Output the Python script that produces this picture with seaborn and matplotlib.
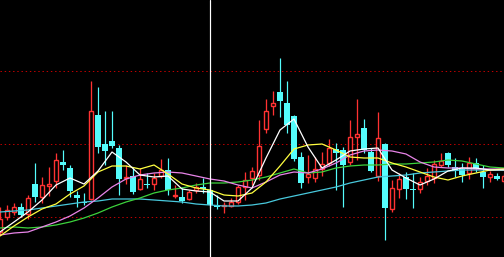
import numpy as np
import pandas as pd
import matplotlib
matplotlib.use("Agg")
import matplotlib.pyplot as plt
import seaborn as sns

# ---- candle data (price units) ----
opens = [25, 40, 45, 50, 43, 73, 60, 71, 76, 95, 89, 62, 55, 58, 142, 113, 116, 109, 79, 81,
         68, 73, 73, 81, 87, 61, 60, 58, 67, 70, 67, 52, 51, 51, 55, 70, 79, 82, 128, 151,
         165, 154, 141, 100, 80, 79, 88, 94, 108, 107, 95, 120, 129, 105, 81, 113, 48, 68, 80, 68,
         68, 76, 79, 92, 104, 90, 88, 84, 94, 85, 80, 81, 76]
closes = [38, 47, 50, 42, 59, 60, 72, 73, 97, 92, 66, 59, 54, 146, 110, 106, 111, 78, 80, 65,
          78, 72, 79, 87, 67, 62, 56, 65, 70, 68, 52, 50, 52, 55, 70, 77, 86, 111, 146, 154,
          156, 132, 98, 74, 83, 88, 93, 109, 104, 92, 120, 123, 107, 86, 119, 49, 69, 78, 68, 67,
          75, 81, 93, 96, 92, 86, 82, 94, 88, 80, 83, 78, 81]
highs = [50, 52, 54, 54, 62, 94, 80, 90, 104, 107, 92, 66, 64, 176, 170, 146, 146, 112, 92, 89,
         89, 84, 84, 98, 99, 72, 70, 67, 74, 79, 74, 62, 55, 59, 72, 85, 90, 137, 158, 166,
         199, 176, 142, 105, 102, 100, 105, 118, 114, 110, 137, 158, 138, 109, 145, 114, 77, 84, 85, 84,
         80, 89, 97, 104, 105, 99, 94, 100, 99, 92, 86, 84, 83]
lows = [22, 37, 42, 40, 38, 55, 54, 61, 69, 87, 60, 50, 52, 57, 104, 92, 109, 62, 73, 63,
        67, 69, 67, 79, 62, 59, 54, 57, 64, 64, 49, 48, 44, 50, 53, 57, 72, 77, 124, 142,
        140, 124, 96, 69, 74, 75, 81, 91, 67, 50, 92, 97, 104, 85, 76, 17, 45, 59, 58, 49,
        64, 72, 74, 90, 90, 80, 75, 78, 85, 69, 75, 77, 74]

# ---- moving average lines, read every second candle ----
ma_index = list(range(0, 73, 2))
ma_white = [25, 35, 45, 57, 72, 79, 73, 86, 105, 95, 82, 80, 81, 68, 66, 65, 56, 56, 69, 99,
            127, 138, 110, 89, 97, 106, 108, 109, 87, 79, 72, 78, 86, 89, 89, 87, 87]
ma_yellow = [21, 31, 40, 48, 53, 63, 71, 85, 91, 91, 88, 92, 83, 73, 69, 67, 62, 61, 64, 75,
             91, 108, 112, 113, 107, 100, 99, 99, 94, 90, 85, 80, 77, 81, 84, 87, 88]
ma_magenta = [22, 24, 25, 30, 35, 41, 49, 59, 70, 78, 82, 84, 85, 84, 81, 78, 76, 72, 69, 75,
              82, 85, 84, 88, 94, 102, 106, 107, 106, 103, 95, 90, 89, 89, 88, 88, 88]
ma_green = [29, 30, 29, 30, 32, 35, 39, 44, 50, 55, 59, 64, 67, 69, 72, 74, 74, 75, 77, 80,
            84, 88, 84, 85, 89, 91, 92, 92, 93, 93, 94, 95, 97, 96, 93, 90, 89]
ma_cyan = [45, 46, 47, 49, 51, 53, 55, 56, 58, 58, 58, 57, 56, 55, 53, 52, 51, 51, 52, 54,
           58, 61, 64, 67, 70, 74, 77, 80, 81, 82, 84, 85, 86, 87, 87, 87, 87]

grid_levels = [40, 113, 186]
cursor_index = 30

sns.set_theme(style="dark")
UP = "#ff3232"
DOWN = "#54fcfc"
PX = 0.72  # one pixel in points at 100 dpi

fig = plt.figure(figsize=(5.04, 2.57), dpi=100, facecolor="black")
ax = fig.add_axes([0, 0, 1, 1])
ax.set_facecolor("black")

df = pd.DataFrame({"o": opens, "c": closes, "h": highs, "l": lows})
df["i"] = np.arange(len(df))
up = df[df["c"] > df["o"]]
dn = df[df["c"] <= df["o"]]

for lvl in grid_levels:
    ax.axhline(lvl, color="#c00000", lw=PX, ls=(0, (1.4, 2.8)), zorder=1)

bw = 0.72
# down candles: solid cyan
ax.vlines(dn["i"], dn["l"], dn["h"], color=DOWN, lw=PX * 1.2, zorder=3)
ax.bar(dn["i"], np.maximum(dn["o"] - dn["c"], 1.2), bottom=dn["c"], width=bw,
       color=DOWN, lw=0, zorder=3)
# up candles: hollow red
ax.vlines(up["i"], up["l"], up["o"], color=UP, lw=PX * 1.3, zorder=3)
ax.vlines(up["i"], up["c"], up["h"], color=UP, lw=PX * 1.3, zorder=3)
ax.bar(up["i"], up["c"] - up["o"], bottom=up["o"], width=bw - 0.16,
       facecolor="black", edgecolor=UP, lw=PX * 1.4, zorder=3)

ma = pd.DataFrame({
    "i": ma_index * 5,
    "v": ma_cyan + ma_green + ma_magenta + ma_yellow + ma_white,
    "s": (["cyan"] * len(ma_index) + ["green"] * len(ma_index) + ["magenta"] * len(ma_index)
          + ["yellow"] * len(ma_index) + ["white"] * len(ma_index)),
})
pal = {"cyan": "#48c8dc", "green": "#3cd23c", "magenta": "#e884e8",
       "yellow": "#ffff40", "white": "#ffffff"}
sns.lineplot(data=ma, x="i", y="v", hue="s", palette=pal, lw=0.9, ax=ax,
             legend=False, zorder=4, estimator=None, sort=True)

ax.axvline(cursor_index, color="white", lw=PX * 1.2, zorder=5)

ax.set_xlim(0, 72)
ax.set_ylim(0, 257)
ax.set_axis_off()
fig.savefig("out.png", dpi=100, facecolor="black")
